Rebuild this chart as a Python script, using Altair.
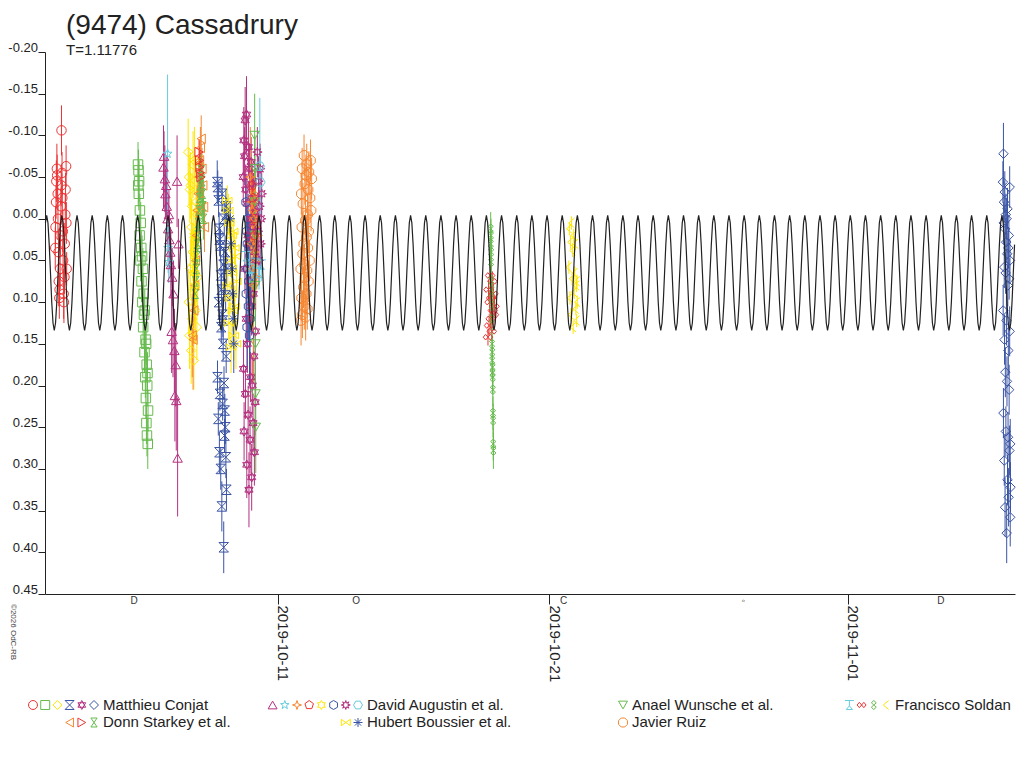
import altair as alt
import pandas as pd
from datetime import datetime, timezone

# ---------------- data (x: day of October 2019, UTC; y: relative magnitude) ----------------
MC1_T = [2.79, 2.80, 2.82, 2.83, 2.85, 2.86, 2.88, 2.89, 2.91, 2.92, 2.94, 2.95, 2.97, 2.98, 3.00,
         3.01, 3.02, 3.04, 3.05, 3.07, 3.08, 3.10, 3.11, 3.13, 3.14, 3.16, 3.17, 3.19, 3.20, 3.21]
MC1_M = [0.035, 0.010, -0.020, -0.045, -0.060, -0.052, -0.030, 0.000, 0.040, 0.075, 0.095, 0.085, 0.060, 0.020, -0.015,
         -0.040, -0.106, -0.055, -0.025, 0.015, 0.050, 0.090, 0.100, 0.070, 0.030, -0.005, -0.035, -0.063, 0.005, 0.060]
MC1_E = [0.025, 0.025, 0.02, 0.025, 0.03, 0.025, 0.02, 0.025, 0.025, 0.03, 0.025, 0.02, 0.025, 0.025, 0.02,
         0.025, 0.03, 0.025, 0.02, 0.025, 0.025, 0.03, 0.025, 0.02, 0.025, 0.025, 0.02, 0.025, 0.025, 0.02]

MC2_T = [5.84, 5.85, 5.86, 5.87, 5.88, 5.90, 5.91, 5.93, 5.94, 5.96, 5.97, 5.99, 6.00, 6.02, 6.03,
         6.05, 6.06, 6.08, 6.09, 6.11, 6.12, 6.13, 6.14, 6.15, 6.16, 6.17, 6.18, 6.19, 6.20, 6.21]
MC2_M = [-0.065, -0.040, -0.058, -0.030, -0.045, 0.020, -0.010, 0.050, 0.005, 0.035, 0.075, 0.045, 0.100, 0.060, 0.130,
         0.090, 0.115, 0.160, 0.110, 0.190, 0.145, 0.215, 0.150, 0.245, 0.175, 0.260, 0.200, 0.185, 0.270, 0.230]
MC2_E = [0.027, 0.025, 0.025, 0.02, 0.025, 0.025, 0.02, 0.025, 0.025, 0.02, 0.025, 0.025, 0.02, 0.025, 0.025,
         0.025, 0.02, 0.025, 0.025, 0.025, 0.02, 0.025, 0.025, 0.025, 0.02, 0.025, 0.025, 0.025, 0.03, 0.025]

DA1_T = [6.78, 6.80, 6.83, 6.85, 6.88, 6.90, 6.93, 6.95, 6.98, 7.00, 7.03, 7.05, 7.08, 7.10, 7.13,
         7.15, 7.18, 7.20, 7.23, 7.25, 7.28, 7.30, 7.33]
DA1_M = [-0.062, -0.075, -0.048, -0.030, -0.040, -0.015, 0.000, 0.012, -0.005, 0.025, 0.040, 0.055, 0.135, 0.070, 0.145,
         0.090, 0.158, 0.212, 0.175, 0.218, -0.045, 0.287, 0.030]
DA1_E = [0.05, 0.03, 0.04, 0.03, 0.035, 0.03, 0.03, 0.04, 0.03, 0.035, 0.03, 0.04, 0.05, 0.035, 0.045,
         0.04, 0.05, 0.055, 0.05, 0.06, 0.055, 0.07, 0.03]

DA2_T = [6.93, 6.95, 6.97]
DA2_M = [-0.078, 0.035, 0.052]
DA2_E = [0.095, 0.03, 0.025]

MC3_T = [7.69, 7.71, 7.72, 7.74, 7.75, 7.77, 7.78, 7.80, 7.81, 7.83, 7.84, 7.86, 7.87, 7.89, 7.90,
         7.92, 7.93, 7.95, 7.96, 7.98, 7.99, 8.01, 8.02, 8.04]
MC3_M = [-0.080, 0.100, -0.050, 0.140, -0.035, 0.060, -0.040, 0.158, 0.010, -0.015, 0.120, 0.040, -0.065, 0.055, 0.170,
         -0.070, 0.085, 0.025, 0.110, -0.020, 0.030, 0.130, -0.005, 0.070]
MC3_E = [0.04, 0.04, 0.035, 0.04, 0.04, 0.035, 0.04, 0.04, 0.035, 0.04, 0.04, 0.035, 0.04, 0.04, 0.035,
         0.04, 0.04, 0.035, 0.04, 0.04, 0.035, 0.04, 0.04, 0.035]

DS1_T = [7.84, 7.87, 7.90, 7.93, 7.96, 7.99, 8.02, 8.05, 8.08, 8.11, 8.14, 8.17, 8.20, 8.23, 8.26, 8.29]
DS1_M = [0.140, 0.145, 0.110, 0.080, 0.050, 0.020, -0.010, -0.030, -0.050, -0.070, -0.085, -0.096, -0.060, -0.040, -0.014, 0.010]
DS1_E = [0.05, 0.06, 0.04, 0.035, 0.03, 0.03, 0.03, 0.03, 0.025, 0.025, 0.025, 0.028, 0.025, 0.03, 0.03, 0.03]

DS3_T = [7.95, 7.97, 7.99, 8.01, 8.03, 8.05, 8.07, 8.09, 8.11, 8.13, 8.15, 8.17, 8.19, 8.21, 8.23, 8.25]
DS3_M = [0.090, 0.075, 0.060, 0.045, 0.030, 0.020, 0.005, -0.010, -0.025, -0.040, -0.050, -0.058, -0.045, -0.030, -0.015, 0.000]
DS3_E = [0.025, 0.025, 0.02, 0.025, 0.025, 0.02, 0.025, 0.025, 0.02, 0.025, 0.025, 0.02, 0.025, 0.025, 0.02, 0.025]

DS2_T = [8.09, 8.11, 8.12, 8.14, 8.16]
DS2_M = [-0.080, -0.070, -0.062, -0.055, -0.050]
DS2_E = [0.015, 0.015, 0.02, 0.015, 0.02]

DA5_T = [7.90, 7.92, 7.94, 7.96]
DA5_M = [0.020, 0.045, 0.065, 0.080]
DA5_E = [0.03, 0.03, 0.03, 0.03]

MC4_T = [8.76, 8.77, 8.78, 8.80, 8.81, 8.82, 8.83, 8.84, 8.85, 8.86, 8.88, 8.89, 8.90, 8.91, 8.92, 8.93, 8.94, 8.95,
         8.96, 8.97, 8.98, 8.99, 9.00, 9.01, 9.02, 9.03, 9.04, 9.05, 9.06, 9.07, 9.08, 9.08, 9.09, 9.10, 9.10, 9.11]
MC4_M = [-0.044, 0.190, -0.038, 0.240, -0.022, 0.100, 0.012, 0.280, 0.025, 0.210, 0.032, 0.300, 0.068, 0.130, 0.085,
         0.345, -0.030, 0.115, 0.222, 0.122, 0.150, 0.055, 0.394, 0.197, 0.000, 0.260, 0.230, 0.040, 0.250, 0.092,
         -0.015, 0.286, 0.165, 0.325, -0.005, 0.060]
MC4_E = [0.026, 0.02, 0.02, 0.02, 0.02, 0.02, 0.02, 0.025, 0.02, 0.02, 0.02, 0.025, 0.02, 0.02, 0.02, 0.03, 0.02, 0.02,
         0.02, 0.02, 0.02, 0.02, 0.031, 0.02, 0.02, 0.02, 0.02, 0.02, 0.02, 0.02, 0.02, 0.025, 0.02, 0.025, 0.02, 0.02]

HB1_T = [9.13, 9.15, 9.17, 9.19, 9.21, 9.23, 9.25, 9.27, 9.29, 9.31, 9.33, 9.35, 9.37, 9.39, 9.41, 9.43, 9.45, 9.47]
HB1_M = [-0.022, 0.080, -0.010, 0.125, 0.005, 0.095, 0.050, 0.154, 0.020, 0.065, 0.110, 0.015, 0.140, 0.035, 0.105,
         0.045, 0.150, 0.075]
HB1_E = [0.018, 0.02, 0.02, 0.025, 0.02, 0.02, 0.02, 0.031, 0.02, 0.02, 0.025, 0.02, 0.03, 0.02, 0.025, 0.02, 0.03, 0.02]

HB2_T = [9.24, 9.27, 9.30, 9.32, 9.35, 9.37]
HB2_M = [0.000, 0.030, 0.060, 0.090, 0.120, 0.150]
HB2_E = [0.02, 0.02, 0.025, 0.025, 0.03, 0.035]

MC5_T = [9.72, 9.73, 9.74, 9.75, 9.77, 9.78, 9.79, 9.80, 9.81, 9.83, 9.84, 9.85, 9.86, 9.87, 9.89, 9.90, 9.91, 9.92,
         9.93, 9.95, 9.96, 9.97, 9.98, 9.99, 10.01, 10.02, 10.03, 10.04, 10.05, 10.07, 10.08, 10.09, 10.10, 10.11,
         10.13, 10.14, 10.15, 10.16, 10.17, 10.18]
MC5_M = [-0.050, 0.180, -0.094, 0.255, -0.075, 0.060, -0.118, 0.210, -0.035, 0.120, -0.125, 0.295, -0.018, 0.150,
         0.020, 0.235, -0.086, 0.030, 0.325, -0.060, 0.075, 0.265, 0.000, 0.190, -0.068, 0.105, 0.310, -0.042, 0.200,
         0.010, 0.245, 0.090, -0.025, 0.165, 0.280, 0.040, -0.008, 0.220, 0.135, 0.050]
MC5_E = [0.03, 0.035, 0.04, 0.035, 0.035, 0.03, 0.04, 0.03, 0.03, 0.03, 0.046, 0.04, 0.03, 0.035, 0.03, 0.035, 0.035,
         0.03, 0.045, 0.03, 0.03, 0.04, 0.03, 0.03, 0.03, 0.035, 0.04, 0.03, 0.035, 0.03, 0.035, 0.03, 0.03, 0.03,
         0.04, 0.03, 0.03, 0.035, 0.035, 0.03]

DA6_T = [9.82, 9.83, 9.85, 9.86, 9.87, 9.88, 9.90, 9.91, 9.92, 9.94, 9.95, 9.96, 9.97, 9.99]
DA6_M = [-0.020, 0.090, 0.015, 0.130, 0.030, 0.060, 0.000, 0.105, 0.075, 0.035, 0.140, 0.045, 0.120, 0.070]
DA6_E = [0.03, 0.035, 0.03, 0.05, 0.03, 0.035, 0.03, 0.04, 0.035, 0.03, 0.06, 0.03, 0.045, 0.035]

DA3_T = [9.98, 10.00, 10.03, 10.05, 10.07, 10.09, 10.11, 10.13, 10.15, 10.18, 10.20, 10.22, 10.25]
DA3_M = [-0.050, 0.030, -0.020, 0.060, -0.010, 0.080, 0.000, 0.040, -0.030, 0.070, 0.010, 0.050, 0.020]
DA3_E = [0.06, 0.03, 0.03, 0.035, 0.03, 0.117, 0.03, 0.03, 0.03, 0.04, 0.03, 0.035, 0.03]

DA7_T = [10.24, 10.26, 10.28, 10.30, 10.32, 10.34, 10.36, 10.38, 10.40]
DA7_M = [-0.080, 0.015, -0.045, 0.050, -0.015, -0.060, 0.030, 0.000, -0.030]
DA7_E = [0.03, 0.03, 0.03, 0.03, 0.03, 0.03, 0.03, 0.03, 0.03]

DA8_T = [10.33, 10.35]
DA8_M = [-0.063, -0.044]
DA8_E = [0.082, 0.04]

FS1_T = [9.83, 9.95, 10.05, 10.18, 10.30, 10.38]
FS1_M = [0.045, 0.060, 0.070, 0.053, 0.065, 0.055]
FS1_E = [0.02, 0.02, 0.02, 0.02, 0.02, 0.02]

AW1_T = [10.14, 10.15, 10.15, 10.16, 10.16, 10.17, 10.17, 10.18]
AW1_M = [-0.100, -0.060, -0.020, 0.020, 0.080, 0.150, 0.210, 0.250]
AW1_E = [0.05, 0.04, 0.04, 0.04, 0.04, 0.045, 0.05, 0.055]

DA4_T = [10.05, 10.08, 10.11, 10.13]
DA4_M = [-0.040, -0.025, 0.000, 0.020]
DA4_E = [0.02, 0.02, 0.02, 0.02]

JR1_T = [11.84, 11.85, 11.86, 11.87, 11.88, 11.89, 11.90, 11.91, 11.92, 11.94, 11.95, 11.96, 11.97, 11.98, 11.99,
         12.00, 12.01, 12.02, 12.03, 12.04, 12.05, 12.06, 12.07, 12.08, 12.09, 12.10, 12.11, 12.12, 12.13, 12.14,
         12.16, 12.18, 12.20, 12.22, 12.24]
JR1_M = [0.060, 0.122, -0.030, 0.095, 0.010, -0.060, 0.115, 0.042, -0.018, 0.082, 0.030, -0.076, 0.105, 0.055,
         -0.042, 0.070, 0.002, 0.118, -0.052, 0.090, 0.022, -0.065, 0.062, 0.108, -0.005, 0.035, -0.035, 0.075,
         0.015, -0.056, 0.050, -0.025, -0.070, -0.010, -0.048]
JR1_E = [0.025, 0.03, 0.025, 0.028, 0.025, 0.025, 0.028, 0.025, 0.025, 0.025, 0.025, 0.025, 0.028, 0.025, 0.025,
         0.025, 0.025, 0.028, 0.025, 0.025, 0.025, 0.025, 0.025, 0.025, 0.025, 0.025, 0.025, 0.025, 0.025, 0.025,
         0.025, 0.025, 0.025, 0.025, 0.025]

FS2_T = [18.74, 18.76, 18.78, 18.80, 18.82, 18.84, 18.86, 18.88, 18.90, 18.92, 18.94, 18.96, 18.98]
FS2_M = [0.142, 0.085, 0.128, 0.100, 0.068, 0.120, 0.095, 0.135, 0.075, 0.110, 0.090, 0.115, 0.105]
FS2_E = [0.01, 0.012, 0.012, 0.012, 0.012, 0.012, 0.012, 0.012, 0.012, 0.012, 0.012, 0.012, 0.012]

FS3_T = [18.84, 18.845, 18.85, 18.855, 18.86, 18.865, 18.87, 18.875, 18.88, 18.885, 18.89, 18.895, 18.90, 18.905,
         18.91, 18.915, 18.92, 18.925, 18.93, 18.935, 18.94]
FS3_M = [0.012, 0.030, 0.020, 0.052, 0.040, 0.074, 0.095, 0.085, 0.120, 0.105, 0.150, 0.170, 0.160, 0.185, 0.178,
         0.190, 0.205, 0.233, 0.242, 0.270, 0.278]
FS3_E = [0.02, 0.02, 0.02, 0.02, 0.02, 0.02, 0.02, 0.02, 0.02, 0.02, 0.02, 0.02, 0.02, 0.02, 0.02,
         0.02, 0.02, 0.02, 0.02, 0.02, 0.022]

FS4_T = [21.72, 21.74, 21.76, 21.78, 21.80, 21.82, 21.84, 21.86, 21.88, 21.90, 21.92, 21.94, 21.96, 21.98, 22.00,
         22.01, 22.02, 22.03]
FS4_M = [0.058, 0.012, 0.095, 0.028, 0.115, 0.005, 0.072, 0.038, 0.130, 0.020, 0.088, 0.065, 0.030, 0.108, 0.080,
         0.122, 0.075, 0.100]
FS4_E = [0.008, 0.008, 0.008, 0.008, 0.008, 0.008, 0.008, 0.008, 0.008, 0.008, 0.008, 0.008, 0.008, 0.008, 0.008,
         0.008, 0.008, 0.008]

MC6_T = [37.72, 37.73, 37.74, 37.74, 37.75, 37.76, 37.77, 37.77, 37.78, 37.79, 37.80, 37.80, 37.81, 37.82, 37.83,
         37.83, 37.84, 37.85, 37.86, 37.86, 37.87, 37.88, 37.89, 37.89, 37.90, 37.91, 37.92, 37.92, 37.93, 37.94,
         37.95, 37.95, 37.96, 37.97, 37.97, 37.98, 37.99, 37.99, 38.00]
MC6_M = [-0.044, 0.110, -0.078, 0.233, 0.005, -0.020, 0.290, 0.058, 0.145, -0.032, 0.012, 0.346, 0.184, 0.065,
         -0.005, 0.255, 0.028, 0.122, 0.377, 0.000, 0.195, 0.042, 0.313, -0.012, 0.080, 0.262, 0.035, 0.158, 0.334,
         0.020, 0.205, 0.072, 0.278, -0.038, 0.135, 0.050, 0.358, 0.270, 0.322]
MC6_E = [0.025, 0.03, 0.037, 0.03, 0.025, 0.025, 0.03, 0.025, 0.03, 0.025, 0.025, 0.035, 0.03, 0.025, 0.025,
         0.03, 0.025, 0.03, 0.036, 0.025, 0.03, 0.025, 0.03, 0.025, 0.025, 0.03, 0.025, 0.03, 0.035, 0.025,
         0.03, 0.025, 0.03, 0.025, 0.03, 0.025, 0.035, 0.03, 0.03]

# model lightcurve: one half-period template (two maxima per rotation)
CURVE_TEMPLATE = [-0.004, 0.005, 0.031, 0.065, 0.100, 0.125, 0.134, 0.125, 0.100, 0.065, 0.031, 0.005]
CURVE_PERIOD = 1.11776     # days
CURVE_EPOCH = 2.4744       # day of October of a maximum

MOON_T = [5.70, 13.88, 21.53, 28.15, 35.43]
MOON_GLYPH = ["D", "O", "C", "\u25e6", "D"]

X_TICK_DAYS = [11, 21, 32]
Y_TICKS = [-0.20, -0.15, -0.10, -0.05, 0.00, 0.05, 0.10, 0.15, 0.20, 0.25, 0.30, 0.35, 0.40, 0.45]
X_LO, X_HI = 2.412, 38.166

TITLE = "(9474) Cassadrury"
SUBTITLE = "T=1.11776"
COPYRIGHT = "\u00a92026 OdC-RB"

LEGEND = [
    ("Matthieu Conjat", ["MC1", "MC2", "MC3", "MC4", "MC5", "MC6"]),
    ("David Augustin et al.", ["DA1", "DA2", "DA3", "DA4", "DA5", "DA6", "DA7", "DA8"]),
    ("Anael Wunsche et al.", ["AW1"]),
    ("Francisco Soldan", ["FS1", "FS2", "FS3", "FS4"]),
    ("Donn Starkey et al.", ["DS1", "DS2", "DS3"]),
    ("Hubert Boussier et al.", ["HB1", "HB2"]),
    ("Javier Ruiz", ["JR1"]),
]

SESSIONS = [
    ("MC1", MC1_T, MC1_M, MC1_E), ("MC2", MC2_T, MC2_M, MC2_E), ("DA1", DA1_T, DA1_M, DA1_E),
    ("DA2", DA2_T, DA2_M, DA2_E), ("MC3", MC3_T, MC3_M, MC3_E), ("DS1", DS1_T, DS1_M, DS1_E),
    ("DS3", DS3_T, DS3_M, DS3_E), ("DS2", DS2_T, DS2_M, DS2_E), ("DA5", DA5_T, DA5_M, DA5_E),
    ("MC4", MC4_T, MC4_M, MC4_E), ("HB1", HB1_T, HB1_M, HB1_E), ("HB2", HB2_T, HB2_M, HB2_E),
    ("MC5", MC5_T, MC5_M, MC5_E), ("DA6", DA6_T, DA6_M, DA6_E), ("DA3", DA3_T, DA3_M, DA3_E),
    ("DA7", DA7_T, DA7_M, DA7_E), ("DA8", DA8_T, DA8_M, DA8_E), ("FS1", FS1_T, FS1_M, FS1_E),
    ("AW1", AW1_T, AW1_M, AW1_E), ("DA4", DA4_T, DA4_M, DA4_E), ("JR1", JR1_T, JR1_M, JR1_E),
    ("FS2", FS2_T, FS2_M, FS2_E), ("FS3", FS3_T, FS3_M, FS3_E), ("FS4", FS4_T, FS4_M, FS4_E),
    ("MC6", MC6_T, MC6_M, MC6_E),
]

# ---------------- styles ----------------
RED, GREEN, YELLOW, BLUE = "#EC3434", "#66BB4D", "#FFE600", "#3A54A4"
MAGENTA, ORANGE, CYAN = "#B3307F", "#F68631", "#67CBE0"

P_HOURGLASS = "M-1,-1H1L-1,1H1Z"
P_HOURGLASS2 = "M-0.7,-1H0.7L-0.7,1H0.7Z"
P_HEXAGRAM = "M0,-1L0.866,0.5H-0.866Z M0,1L-0.866,-0.5H0.866Z"
P_STAR5 = ("M0,-1L0.235,-0.324L0.951,-0.309L0.38,0.124L0.588,0.809L0,0.4L-0.588,0.809"
           "L-0.38,0.124L-0.951,-0.309L-0.235,-0.324Z")
P_STAR4 = "M0,-1L0.25,-0.25L1,0L0.25,0.25L0,1L-0.25,0.25L-1,0L-0.25,-0.25Z"
P_PENT = "M0,-1L0.951,-0.309L0.588,0.809L-0.588,0.809L-0.951,-0.309Z"
P_STAR6 = ("M0,-1L0.289,-0.5L0.866,-0.5L0.577,0L0.866,0.5L0.289,0.5L0,1L-0.289,0.5"
           "L-0.866,0.5L-0.577,0L-0.866,-0.5L-0.289,-0.5Z")
P_HEX = "M0,-1L0.866,-0.5L0.866,0.5L0,1L-0.866,0.5L-0.866,-0.5Z"
P_STAR8 = ("M1,0L0.416,0.172L0.707,0.707L0.172,0.416L0,1L-0.172,0.416L-0.707,0.707L-0.416,0.172"
           "L-1,0L-0.416,-0.172L-0.707,-0.707L-0.172,-0.416L0,-1L0.172,-0.416L0.707,-0.707L0.416,-0.172Z")
P_HEXFLAT = "M-1,0L-0.5,-0.866L0.5,-0.866L1,0L0.5,0.866L-0.5,0.866Z"
P_TTRI = "M-1,-1H1M0,-1V0.2M-0.7,1L0,0.2L0.7,1Z"
P_INF = "M0,0L-0.5,-0.6L-1,0L-0.5,0.6Z M0,0L0.5,-0.6L1,0L0.5,0.6Z"
P_EIGHT = "M0,0L-0.55,-0.5L0,-1L0.55,-0.5Z M0,0L-0.55,0.5L0,1L0.55,0.5Z"
P_CHEV = "M0.6,-1L-0.6,0L0.6,1"
P_BOWTIE = "M-1,-0.7V0.7L1,-0.7V0.7Z"
P_AST = "M-1,0H1M0,-1V1M-0.7,-0.7L0.7,0.7M-0.7,0.7L0.7,-0.7"
P_OCT = "M-0.4,-1H0.4L1,-0.4V0.4L0.4,1H-0.4L-1,0.4V-0.4Z"

STYLE = {
    "MC1": ("circle", RED), "MC2": ("square", GREEN), "MC3": ("diamond", YELLOW),
    "MC4": (P_HOURGLASS, BLUE), "MC5": (P_HEXAGRAM, MAGENTA), "MC6": ("diamond", BLUE),
    "DA1": ("triangle-up", MAGENTA), "DA2": (P_STAR5, CYAN), "DA3": (P_STAR4, ORANGE),
    "DA4": (P_PENT, RED), "DA5": (P_STAR6, YELLOW), "DA6": (P_HEX, BLUE),
    "DA7": (P_STAR8, MAGENTA), "DA8": (P_HEXFLAT, CYAN),
    "AW1": ("triangle-down", GREEN),
    "FS1": (P_TTRI, CYAN), "FS2": (P_INF, RED), "FS3": (P_EIGHT, GREEN), "FS4": (P_CHEV, YELLOW),
    "DS1": ("triangle-left", ORANGE), "DS2": ("triangle-right", RED), "DS3": (P_HOURGLASS2, GREEN),
    "HB1": (P_BOWTIE, YELLOW), "HB2": (P_AST, BLUE),
    "JR1": (P_OCT, ORANGE),
}

FONT = "Liberation Sans"
INK = "#222222"
W, H = 970, 542

OCT0 = datetime(2019, 10, 1, tzinfo=timezone.utc).timestamp() * 1000.0


def ms(d):
    return OCT0 + (d - 1.0) * 86400000.0


# ---------------- tables ----------------
rows = []
for sid, ts, ms_, es in SESSIONS:
    for t, m, e in zip(ts, ms_, es):
        rows.append({"t": ms(t), "m": m, "lo": m - e, "hi": m + e, "sess": sid})
pts = pd.DataFrame(rows)

half = CURVE_PERIOD / 2.0
n = len(CURVE_TEMPLATE)
crow = []
for k in range(-2, 70):
    for j, v in enumerate(CURVE_TEMPLATE):
        d = CURVE_EPOCH + (k + j / n) * half
        if X_LO <= d <= X_HI:
            crow.append({"t": ms(d), "m": v})
curve_df = pd.DataFrame(crow)

moon_df = pd.DataFrame({"t": [ms(d) for d in MOON_T], "g": MOON_GLYPH})

sess_ids = list(STYLE.keys())
shape_scale = alt.Scale(domain=sess_ids, range=[STYLE[s][0] for s in sess_ids])
color_scale = alt.Scale(domain=sess_ids, range=[STYLE[s][1] for s in sess_ids])

# legend layout (pixel positions relative to the plot area)
COL_X = [58, 322, 587, 850]
ROW_Y = [657.5, 675.0]
lsym, ltxt = [], []
for i, (name, sids) in enumerate(LEGEND):
    cx, ry = COL_X[i % 4], ROW_Y[i // 4]
    ltxt.append({"lx": cx, "ly": ry, "name": name})
    for k, s in enumerate(reversed(sids)):
        lsym.append({"lx": cx - 9 - 12.2 * k, "ly": ry - 4.5, "sess": s})
lsym_df = pd.DataFrame(lsym)
ltxt_df = pd.DataFrame(ltxt)

# ---------------- scales / axes ----------------
xs = alt.Scale(type="utc", domain=[ms(X_LO), ms(X_HI)], nice=False)
ys = alt.Scale(domain=[-0.20, 0.45], reverse=True, zero=False, nice=False)

xaxis = alt.Axis(values=[ms(d) for d in X_TICK_DAYS], labelExpr="utcFormat(datum.value, '%Y-%m-%d')",
                 labelAngle=90, labelAlign="left", labelBaseline="alphabetic", tickSize=10, labelPadding=1,
                 grid=False, title=None, labelFlush=False, labelOverlap=False, domainColor=INK, tickColor=INK,
                 labelColor=INK, labelFont=FONT, labelFontSize=15, domainWidth=1, tickWidth=1)
yaxis = alt.Axis(values=Y_TICKS, labelExpr="(datum.value < 0 ? '-' : '') + format(abs(datum.value), '.2f')",
                 labelAlign="right", labelBaseline="alphabetic", labelOffset=-1, tickSize=7, labelPadding=0.5,
                 grid=False, title=None, labelFlush=False, labelOverlap=False, domainColor=INK, tickColor=INK,
                 labelColor=INK, labelFont=FONT, labelFontSize=13, domainWidth=1, tickWidth=1)


def X(f):
    return alt.X(f"{f}:T", scale=xs, axis=xaxis, title=None)


def Y(f):
    return alt.Y(f"{f}:Q", scale=ys, axis=yaxis, title=None)


color_enc = alt.Color("sess:N", scale=color_scale, legend=None)
shape_enc = alt.Shape("sess:N", scale=shape_scale, legend=None)

bars = alt.Chart(pts).mark_rule(strokeWidth=1).encode(x=X("t"), y=Y("lo"), y2="hi:Q", color=color_enc)
points = alt.Chart(pts).mark_point(filled=False, strokeWidth=1, size=90, opacity=1).encode(
    x=X("t"), y=Y("m"), shape=shape_enc, color=color_enc)
curve = alt.Chart(curve_df).mark_line(color=INK, strokeWidth=1.2).encode(x=X("t"), y=Y("m"))

moon = alt.Chart(moon_df).mark_text(font=FONT, fontSize=10, color="#333333", baseline="middle").encode(
    x=X("t"), y=alt.value(548.5), text="g:N")


def label_layer(text, x, y, size, **kw):
    return alt.Chart(pd.DataFrame({"label": [text]})).mark_text(
        font=FONT, fontSize=size, color=INK, align="left", baseline="alphabetic", **kw).encode(
        x=alt.value(x), y=alt.value(y), text="label:N")


title = label_layer(TITLE, 21, -18, 28)
subtitle = label_layer(SUBTITLE, 21, 3, 15)
copyright_ = alt.Chart(pd.DataFrame({"label": [COPYRIGHT]})).mark_text(
    font=FONT, fontSize=8, color="#444444", align="left", baseline="middle", angle=90).encode(
    x=alt.value(-32), y=alt.value(552), text="label:N")

leg_sym = alt.Chart(lsym_df).mark_point(filled=False, strokeWidth=1, size=80, opacity=1).encode(
    x=alt.X("lx:Q", scale=None, axis=None), y=alt.Y("ly:Q", scale=None, axis=None),
    shape=shape_enc, color=color_enc)
leg_txt = alt.Chart(ltxt_df).mark_text(font=FONT, fontSize=15, color=INK, align="left",
                                       baseline="alphabetic").encode(
    x=alt.X("lx:Q", scale=None, axis=None), y=alt.Y("ly:Q", scale=None, axis=None), text="name:N")

chart = alt.layer(bars, points, curve, moon, title, subtitle, copyright_, leg_sym, leg_txt).properties(
    width=W, height=H,
    padding={"left": 37, "top": 44, "right": 1, "bottom": 150},
    autosize=alt.AutoSizeParams(type="none"),
).configure_view(stroke=None)

chart.save("out.html", embed_options={"renderer": "svg", "actions": False})
